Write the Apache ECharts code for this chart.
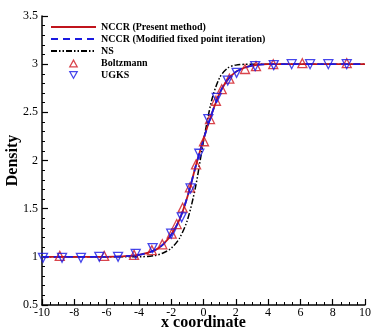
<!DOCTYPE html>
<html>
<head>
<meta charset="utf-8">
<script src="https://cdn.jsdelivr.net/npm/echarts@6/dist/echarts.min.js"></script>
<style>
  html, body { margin: 0; padding: 0; background: #fff; }
  #chart { width: 374px; height: 332px; }
</style>
</head>
<body>
<div id="chart"></div>
<script>
// curves
const nccrX = [-10, -6, -5, -4, -3, -2.5, -2, -1.5, -1, -0.5, 0, 0.5, 1, 1.5, 2, 2.5, 3, 4, 10];
const nccrY = [1.0, 1.0, 1.005, 1.02, 1.07, 1.13, 1.23, 1.38, 1.62, 1.93, 2.22, 2.48, 2.7, 2.84, 2.92, 2.96, 2.985, 3.0, 3.0];
const fixedY = [1.0, 1.0, 1.005, 1.02, 1.07, 1.13, 1.23, 1.38, 1.62, 1.93, 2.22, 2.48, 2.7, 2.84, 2.92, 2.96, 2.985, 3.0, 3.0];
const nsX = [-10, -4, -3, -2.5, -2, -1.5, -1, -0.5, 0, 0.5, 1, 1.5, 2, 3, 10];
const nsY = [1.0, 1.0, 1.015, 1.04, 1.09, 1.19, 1.38, 1.72, 2.2, 2.62, 2.86, 2.96, 2.99, 3.0, 3.0];

// symbols
const boltzX = [-8.9, -6.15, -4.3, -3.2, -2.55, -1.97, -1.66, -1.29, -0.84, -0.46, 0.03, 0.4, 0.77, 1.13, 1.6, 2.57, 3.25, 4.32, 6.12, 8.87];
const boltzY = [1.01, 1.01, 1.02, 1.07, 1.13, 1.24, 1.34, 1.51, 1.72, 1.96, 2.2, 2.43, 2.62, 2.74, 2.85, 2.95, 2.98, 3.0, 3.01, 3.01];
const ugksX = [-9.94, -8.76, -7.59, -6.45, -5.29, -4.2, -3.15, -2.0, -1.35, -0.8, -0.26, 0.3, 0.82, 1.5, 2.05, 3.2, 4.35, 5.46, 6.6, 7.73, 8.87];
const ugksY = [0.99, 0.99, 0.99, 1.0, 1.0, 1.03, 1.09, 1.24, 1.41, 1.71, 2.07, 2.43, 2.65, 2.83, 2.91, 2.98, 2.99, 3.0, 3.0, 3.0, 3.0];

const pairs = (xs, ys) => xs.map((x, i) => [x, ys[i]]);
const font = 'Liberation Serif';
const red = '#d0151e';
const blue = '#1616e6';
// small triangles for the legend, padded so they keep their size in the wide icon box
const triUp = 'path://M-1,-1 M0,10 L5,1 L10,10 Z M11,11';
const triDown = 'path://M-1,-1 M0,0 L10,0 L5,9 Z M11,11';

const chart = echarts.init(document.getElementById('chart'), null, { renderer: 'canvas' });

const axisCommon = {
  axisLine: { show: true, onZero: false, lineStyle: { color: '#000', width: 1.5 } },
  axisTick: { show: true, inside: true, length: 6, lineStyle: { color: '#000', width: 1.2 } },
  minorTick: { show: true, length: 3, lineStyle: { color: '#000', width: 1 } },
  splitLine: { show: false },
  axisLabel: { color: '#000', fontFamily: font, fontSize: 12 },
  nameMoveOverlap: false,
  nameTextStyle: { color: '#000', fontFamily: font, fontWeight: 'bold', fontSize: 16 }
};

chart.setOption({
  animation: false,
  grid: { left: 42, right: 9, top: 16, bottom: 27, containLabel: false, outerBoundsMode: 'none' },
  legend: {
    orient: 'vertical',
    left: 45,
    top: 17,
    itemWidth: 45,
    itemHeight: 9,
    itemGap: 2,
    textStyle: { color: '#000', fontFamily: font, fontWeight: 'bold', fontSize: 10 },
    data: [
      { name: 'NCCR (Present method)', itemStyle: { opacity: 0 } },
      { name: 'NCCR (Modified fixed point iteration)', itemStyle: { opacity: 0 } },
      { name: 'NS', itemStyle: { opacity: 0 } },
      { name: 'Boltzmann', icon: triUp, itemStyle: { color: 'rgba(0,0,0,0)', borderColor: red, borderWidth: 1.2 } },
      { name: 'UGKS', icon: triDown, itemStyle: { color: 'rgba(0,0,0,0)', borderColor: blue, borderWidth: 1.2 } }
    ]
  },
  xAxis: Object.assign({}, axisCommon, {
    type: 'value', min: -10, max: 10, interval: 2,
    minorTick: Object.assign({}, axisCommon.minorTick, { splitNumber: 4 }),
    name: 'x coordinate', nameLocation: 'middle', nameGap: 10,
    axisLabel: Object.assign({}, axisCommon.axisLabel, { margin: 2 })
  }),
  yAxis: Object.assign({}, axisCommon, {
    type: 'value', min: 0.5, max: 3.5, interval: 0.5,
    minorTick: Object.assign({}, axisCommon.minorTick, { splitNumber: 5 }),
    name: 'Density', nameLocation: 'middle', nameGap: 21,
    axisLabel: Object.assign({}, axisCommon.axisLabel, { margin: 4 })
  }),
  series: [
    {
      name: 'NCCR (Present method)', type: 'line', smooth: 0.3, symbol: 'none',
      data: pairs(nccrX, nccrY),
      itemStyle: { color: '#c0141c' },
      lineStyle: { color: '#c0141c', width: 1.8 }, z: 2
    },
    {
      name: 'NCCR (Modified fixed point iteration)', type: 'line', smooth: 0.3, symbol: 'none',
      data: pairs(nccrX, fixedY),
      itemStyle: { color: '#1a1ae0' },
      lineStyle: { color: '#1a1ae0', width: 1.8, type: [7, 5] }, z: 3
    },
    {
      name: 'NS', type: 'line', smooth: 0.3, symbol: 'none',
      data: pairs(nsX, nsY),
      itemStyle: { color: '#000' },
      lineStyle: { color: '#000', width: 1.5, type: [6, 2, 1.5, 2, 1.5, 2] }, z: 1
    },
    {
      name: 'Boltzmann', type: 'scatter', symbol: 'triangle', symbolSize: 9,
      data: pairs(boltzX, boltzY),
      itemStyle: { color: 'rgba(0,0,0,0)', borderColor: red, borderWidth: 1.3 }, z: 4
    },
    {
      name: 'UGKS', type: 'scatter', symbol: 'triangle', symbolRotate: 180, symbolSize: 9,
      data: pairs(ugksX, ugksY),
      itemStyle: { color: 'rgba(0,0,0,0)', borderColor: blue, borderWidth: 1.3 }, z: 5
    }
  ]
});
</script>
</body>
</html>
